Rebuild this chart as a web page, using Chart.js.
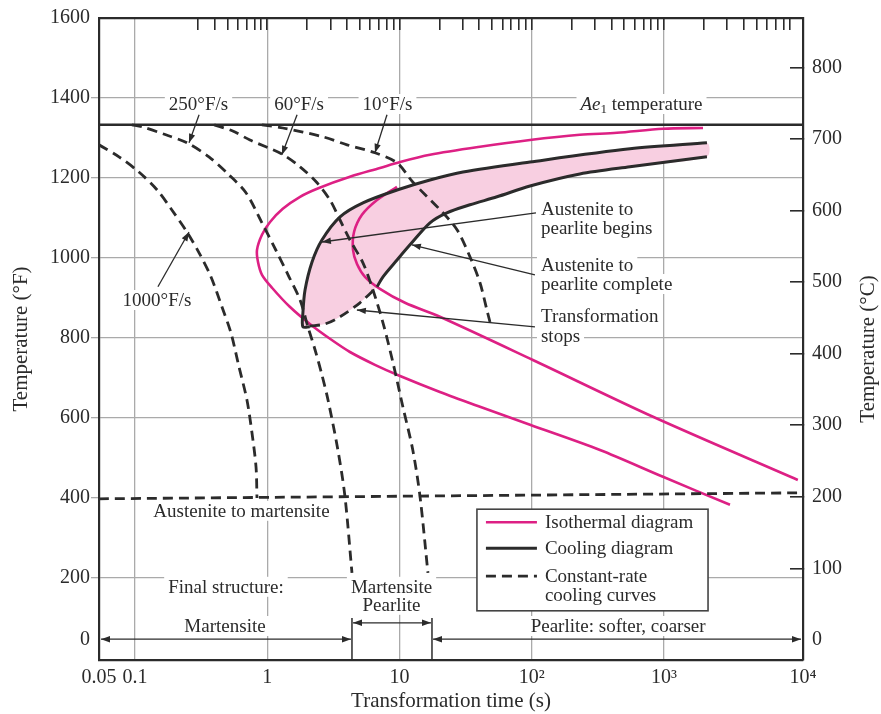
<!DOCTYPE html>
<html>
<head>
<meta charset="utf-8">
<script src="https://cdn.jsdelivr.net/npm/chart.js@4.4.1/dist/chart.umd.min.js"></script>
<style>
  html, body { margin: 0; padding: 0; background: #fff; }
  #wrap { width: 881px; height: 714px; }
</style>
</head>
<body>
<div id="wrap"><canvas id="cct" width="881" height="714"></canvas></div>
<script>
// axes
const xMin = 0.0534, xMax = 11250;
const xTickValues = [0.0534, 0.1, 1, 10, 100, 1000, 11250];
const xTickLabels = ["0.05", "0.1", "1", "10", "10²", "10³", "10⁴"];
const topTickValues = [0.3, 0.4, 0.5, 0.6, 0.7, 0.8, 0.9, 1, 2, 3, 4, 5, 6, 7, 8, 9, 10,
  20, 30, 40, 50, 60, 70, 80, 90, 100, 200, 300, 400, 500, 600, 700, 800, 900, 1000,
  2000, 3000, 4000, 5000, 6000, 7000, 8000, 9000];
const yTickValues = [0, 200, 400, 600, 800, 1000, 1200, 1400, 1600];
const yTickLabels = ["0", "200", "400", "600", "800", "1000", "1200", "1400", "1600"];
const cTickValues = [0, 100, 200, 300, 400, 500, 600, 700, 800];

// Ae1 and martensite start lines (time s, temp F)
const ae1Time = [0.0534, 11250];
const ae1Temp = [1333, 1333];
const msTime = [0.0534, 11250];
const msTemp = [398, 413];

// constant-rate cooling curves
const rate1000Time = [0.0534, 0.0756, 0.107, 0.147, 0.190, 0.247, 0.305, 0.375, 0.454, 0.531, 0.611, 0.702, 0.766, 0.822, 0.836];
const rate1000Temp = [1283, 1253, 1215, 1170, 1120, 1065, 1013, 953, 878, 813, 728, 645, 563, 478, 400];
const rate250Time = [0.0948, 0.113, 0.171, 0.247, 0.362, 0.513, 0.690, 0.912, 1.16, 1.46, 1.77, 2.03, 2.30, 2.59, 2.88, 3.42, 3.87, 4.37];
const rate250Temp = [1333, 1328, 1308, 1288, 1253, 1208, 1163, 1088, 1020, 953, 895, 828, 770, 708, 645, 520, 403, 213];
const rate60Time = [0.397, 0.543, 0.740, 1.29, 1.77, 2.38, 2.98, 3.55, 4.22, 5.29, 6.30, 7.50, 8.93, 10.6, 12.6, 14.3, 16.4];
const rate60Temp = [1333, 1318, 1295, 1260, 1228, 1188, 1145, 1095, 1045, 988, 920, 838, 738, 628, 520, 403, 213];
const rate10Time = [0.912, 1.31, 2.64, 4.01, 6.52, 9.57, 12.6, 21.3, 27.3, 34.1, 40.6, 45.8, 48.3];
const rate10Temp = [1333, 1325, 1303, 1283, 1263, 1238, 1190, 1113, 1070, 1003, 938, 870, 840];

// cooling diagram
const beginTime = [2.10, 1.86, 1.86, 1.93, 2.18, 2.59, 3.55, 5.29, 9.57, 17.0, 30.2, 97, 553, 2113];
const beginTemp = [828, 828, 863, 920, 990, 1045, 1103, 1138, 1170, 1195, 1215, 1240, 1273, 1288];
const endTime = [6.76, 7.50, 9.57, 12.0, 17.0, 22.8, 34.1, 54.6, 97, 231, 553, 2113];
const endTemp = [928, 953, 995, 1033, 1088, 1113, 1133, 1153, 1180, 1210, 1228, 1253];
const stopsTime = [2.10, 2.73, 3.55, 5.02, 6.76];
const stopsTemp = [830, 835, 853, 888, 928];

// isothermal diagram
const isoStartTime = [1972, 982, 441, 231, 97, 40.6, 17.0, 10.1, 7.11, 4.22, 2.46, 1.77, 1.31, 1.05, 0.912, 0.836,
  0.851, 0.912, 1.09, 1.48, 2.10, 2.98, 4.22, 6.52, 10.1, 20.2, 40.6, 97, 328, 982, 3155];
const isoStartTemp = [1325, 1323, 1313, 1308, 1295, 1278, 1258, 1240, 1225, 1203, 1175, 1153, 1123, 1090, 1058, 1020,
  990, 958, 925, 878, 835, 798, 765, 733, 705, 665, 628, 583, 520, 453, 383];
const isoFinishTime = [9.57, 6.76, 5.20, 4.53, 4.45, 4.77, 5.48, 7.11, 11.0, 20.2, 102, 826, 10280];
const isoFinishTemp = [1178, 1145, 1108, 1065, 1020, 985, 953, 923, 888, 853, 745, 603, 445];

const FONT = "'Liberation Serif', 'DejaVu Serif', serif";
const INK = "#2b2b2b";
const PINK = "#dd2084";
const SHADE = "#f8cfe1";
const GRID = "#aaaaaa";
const NONE = "rgba(0,0,0,0)";
const DASH = [10, 6];

function pts(ts, fs) {
  return ts.map((t, i) => ({ x: t, y: fs[i] }));
}

const shadeTime = beginTime.concat(endTime.slice().reverse(), stopsTime.slice().reverse());
const shadeTemp = beginTemp.concat(endTemp.slice().reverse(), stopsTemp.slice().reverse());

function curve(label, ts, fs, color, width, dash) {
  return {
    label: label,
    data: pts(ts, fs),
    showLine: true,
    borderColor: color,
    borderWidth: width,
    borderDash: dash || [],
    pointRadius: 0,
    tension: 0.3,
    fill: false
  };
}

const datasets = [
  curve("Ae1", ae1Time, ae1Temp, INK, 2.6),
  curve("Ms", msTime, msTemp, INK, 2.8, DASH),
  curve("1000F/s", rate1000Time, rate1000Temp, INK, 2.8, DASH),
  curve("250F/s", rate250Time, rate250Temp, INK, 2.8, DASH),
  curve("60F/s", rate60Time, rate60Temp, INK, 2.8, DASH),
  curve("10F/s", rate10Time, rate10Temp, INK, 2.8, DASH),
  curve("stops", stopsTime, stopsTemp, INK, 2.8, DASH),
  curve("begin", beginTime, beginTemp, INK, 3),
  curve("end", endTime, endTemp, INK, 3),
  curve("isoStart", isoStartTime, isoStartTemp, PINK, 2.6),
  curve("isoFinish", isoFinishTime, isoFinishTemp, PINK, 2.6),
  {
    label: "shade",
    data: pts(shadeTime, shadeTemp),
    showLine: true,
    borderWidth: 0,
    borderColor: NONE,
    backgroundColor: SHADE,
    pointRadius: 0,
    tension: 0.3,
    fill: "shape"
  }
];

// text notes placed in data space
const notes = [
  { text: "250°F/s", t: 0.302, f: 1385, align: "center" },
  { text: "60°F/s", t: 1.74, f: 1385, align: "center" },
  { text: "10°F/s", t: 8.11, f: 1385, align: "center" },
  { text: "1000°F/s", t: 0.1466, f: 895, align: "center" },
  { text: "Austenite to", t: 117.4, f: 1123, align: "left" },
  { text: "pearlite begins", t: 117.4, f: 1075, align: "left" },
  { text: "Austenite to", t: 117.4, f: 983, align: "left" },
  { text: "pearlite complete", t: 117.4, f: 935, align: "left" },
  { text: "Transformation", t: 117.4, f: 855, align: "left" },
  { text: "stops", t: 117.4, f: 805, align: "left" },
  { text: "Austenite to martensite", t: 0.638, f: 368, align: "center" },
  { text: "Final structure:", t: 0.487, f: 178, align: "center" },
  { text: "Martensite", t: 8.7, f: 178, align: "center" },
  { text: "Pearlite", t: 8.7, f: 133, align: "center" },
  { text: "Martensite", t: 0.479, f: 80, align: "center" },
  { text: "Pearlite: softer, coarser", t: 450, f: 80, align: "center" }
];

const pointers = [
  { from: [0.305, 1358], to: [0.256, 1288] },
  { from: [1.68, 1358], to: [1.29, 1258] },
  { from: [8.04, 1358], to: [6.52, 1263] },
  { from: [0.149, 928], to: [0.256, 1065] },
  { from: [107.6, 1113], to: [2.59, 1040] },
  { from: [105.7, 958], to: [12.4, 1033] },
  { from: [105.7, 828], to: [4.76, 870] }
];

// final structure bands
const bandEdges = [4.37, 17.6];

const px = (c, t) => c.scales.x.getPixelForValue(t);
const py = (c, f) => c.scales.y.getPixelForValue(f);

function head(ctx, x1, y1, x2, y2) {
  const a = Math.atan2(y2 - y1, x2 - x1), L = 9, W = 3.2;
  ctx.beginPath();
  ctx.moveTo(x2, y2);
  ctx.lineTo(x2 - L * Math.cos(a) + W * Math.sin(a), y2 - L * Math.sin(a) - W * Math.cos(a));
  ctx.lineTo(x2 - L * Math.cos(a) - W * Math.sin(a), y2 - L * Math.sin(a) + W * Math.cos(a));
  ctx.closePath();
  ctx.fill();
}

function arrow(ctx, x1, y1, x2, y2, both) {
  ctx.beginPath();
  ctx.moveTo(x1, y1);
  ctx.lineTo(x2, y2);
  ctx.stroke();
  head(ctx, x1, y1, x2, y2);
  if (both) head(ctx, x2, y2, x1, y1);
}

// keep the plot box fixed: no extra label padding
function noPad(s) {
  s.paddingTop = 0;
  s.paddingBottom = 0;
  s.paddingLeft = 0;
  s.paddingRight = 0;
}

const annotate = {
  id: "annotate",
  beforeDatasetsDraw(chart) {
    const ctx = chart.ctx;
    ctx.save();
    ctx.font = "19px " + FONT;
    ctx.textBaseline = "middle";
    ctx.textAlign = "left";
    notes.forEach(n => {
      const x = px(chart, n.t), y = py(chart, n.f);
      const w = ctx.measureText(n.text).width;
      const x0 = n.align === "left" ? x : x - w / 2;
      ctx.fillStyle = "#fff";
      ctx.fillRect(x0 - 4, y - 10, w + 8, 20);
      ctx.fillStyle = INK;
      ctx.fillText(n.text, x0, y + 1);
    });
    // Ae1 temperature
    const ax = px(chart, 676), ay = py(chart, 1385);
    const parts = [["Ae", "italic 19px " + FONT, 0], ["1", "13px " + FONT, 5], [" temperature", "19px " + FONT, 0]];
    let tw = 0;
    parts.forEach(p => { ctx.font = p[1]; tw += ctx.measureText(p[0]).width; });
    let cx = ax - tw / 2;
    ctx.fillStyle = "#fff";
    ctx.fillRect(cx - 4, ay - 10, tw + 8, 20);
    ctx.fillStyle = INK;
    parts.forEach(p => {
      ctx.font = p[1];
      ctx.fillText(p[0], cx, ay + 1 + p[2]);
      cx += ctx.measureText(p[0]).width;
    });
    ctx.restore();
  },
  afterDatasetsDraw(chart) {
    const ctx = chart.ctx, area = chart.chartArea;
    ctx.save();
    ctx.strokeStyle = INK;
    ctx.fillStyle = INK;
    ctx.lineWidth = 1.3;
    pointers.forEach(p => {
      arrow(ctx, px(chart, p.from[0]), py(chart, p.from[1]), px(chart, p.to[0]), py(chart, p.to[1]));
    });
    // final structure bars and arrows
    const b1 = px(chart, bandEdges[0]), b2 = px(chart, bandEdges[1]);
    const yTop = py(chart, 100), yLow = py(chart, 47), yMid = py(chart, 88);
    ctx.lineWidth = 1.5;
    [b1, b2].forEach(b => {
      ctx.beginPath();
      ctx.moveTo(b, yTop);
      ctx.lineTo(b, area.bottom);
      ctx.stroke();
    });
    ctx.lineWidth = 1.3;
    arrow(ctx, area.left + 2, yLow, b1 - 1, yLow, true);
    arrow(ctx, b1 + 1, yMid, b2 - 1, yMid, true);
    arrow(ctx, b2 + 1, yLow, area.right - 2, yLow, true);

    // legend box
    const lx0 = px(chart, 38.5), lx1 = px(chart, 2153);
    const ly0 = py(chart, 372), ly1 = py(chart, 118);
    ctx.fillStyle = "#fff";
    ctx.fillRect(lx0, ly0, lx1 - lx0, ly1 - ly0);
    ctx.strokeStyle = "#444";
    ctx.lineWidth = 1.6;
    ctx.strokeRect(lx0, ly0, lx1 - lx0, ly1 - ly0);
    const ds = chart.data.datasets;
    const rows = [
      { set: ds[9], y: 13, text: ["Isothermal diagram"] },
      { set: ds[7], y: 39, text: ["Cooling diagram"] },
      { set: ds[2], y: 67, text: ["Constant-rate", "cooling curves"] }
    ];
    ctx.font = "19px " + FONT;
    ctx.textBaseline = "middle";
    ctx.textAlign = "left";
    rows.forEach(r => {
      ctx.strokeStyle = r.set.borderColor;
      ctx.lineWidth = r.set.borderWidth;
      ctx.setLineDash(r.set.borderDash);
      ctx.beginPath();
      ctx.moveTo(lx0 + 9, ly0 + r.y);
      ctx.lineTo(lx0 + 60, ly0 + r.y);
      ctx.stroke();
      ctx.setLineDash([]);
      ctx.fillStyle = INK;
      r.text.forEach((s, i) => ctx.fillText(s, lx0 + 68, ly0 + r.y + 1 + i * 19));
    });
    ctx.restore();
  },
  afterDraw(chart) {
    const ctx = chart.ctx;
    ctx.save();
    ctx.translate(868, (chart.chartArea.top + chart.chartArea.bottom) / 2 + 10);
    ctx.rotate(-Math.PI / 2);
    ctx.font = "21px " + FONT;
    ctx.fillStyle = INK;
    ctx.textAlign = "center";
    ctx.textBaseline = "middle";
    ctx.fillText("Temperature (°C)", 0, 0);
    ctx.restore();
  }
};

Chart.defaults.font.family = FONT;
Chart.defaults.color = INK;

new Chart(document.getElementById("cct"), {
  type: "scatter",
  data: { datasets: datasets },
  plugins: [annotate],
  options: {
    responsive: false,
    animation: false,
    events: [],
    layout: { padding: 0 },
    plugins: { legend: { display: false }, tooltip: { enabled: false } },
    scales: {
      x: {
        type: "logarithmic",
        position: "bottom",
        min: xMin,
        max: xMax,
        afterBuildTicks: s => { s.ticks = xTickValues.map(v => ({ value: v })); },
        afterFit: s => { s.height = 54; noPad(s); },
        ticks: {
          autoSkip: false,
          maxRotation: 0,
          padding: 6,
          font: { size: 20 },
          callback: (v, i) => xTickLabels[i]
        },
        grid: {
          drawTicks: false,
          color: c => (c.tick && (c.tick.value === xMin || c.tick.value === xMax)) ? NONE : GRID,
          lineWidth: 1.3
        },
        border: { display: true, color: INK, width: 2.2 },
        title: { display: true, text: "Transformation time (s)", font: { size: 21 }, padding: { top: 0, bottom: 0 } }
      },
      xTop: {
        type: "logarithmic",
        position: "top",
        min: xMin,
        max: xMax,
        afterBuildTicks: s => { s.ticks = topTickValues.map(v => ({ value: v })); },
        afterFit: s => { s.height = 18; noPad(s); },
        ticks: { display: false },
        grid: { drawOnChartArea: false, tickLength: -12, color: INK, lineWidth: 1.6 },
        border: { display: true, color: INK, width: 2.2 }
      },
      y: {
        type: "linear",
        position: "left",
        min: -5,
        max: 1600,
        afterBuildTicks: s => { s.ticks = yTickValues.map(v => ({ value: v })); },
        afterFit: s => { s.width = 99; noPad(s); },
        ticks: {
          padding: 1,
          font: c => (c.tick && c.tick.value === 0) ? { size: 20, lineHeight: 1.8 } : { size: 20 },
          callback: (v, i) => v === 0 ? [yTickLabels[i], ""] : yTickLabels[i]
        },
        grid: {
          tickLength: 8,
          lineWidth: 1.3,
          color: c => [0, 400, 1600].includes(c.tick.value) ? NONE : GRID,
          tickColor: c => [0, 1600].includes(c.tick.value) ? NONE : GRID
        },
        border: { display: true, color: INK, width: 2.2 },
        title: { display: true, text: "Temperature (°F)", font: { size: 21 }, padding: { top: 9, bottom: 0 } }
      },
      yC: {
        type: "linear",
        position: "right",
        min: -28,
        max: 869,
        afterBuildTicks: s => { s.ticks = cTickValues.map(v => ({ value: v })); },
        afterFit: s => { s.width = 78; noPad(s); },
        ticks: { padding: 22, font: { size: 20 } },
        grid: {
          drawOnChartArea: false,
          tickLength: -13,
          lineWidth: 1.6,
          color: c => c.tick && c.tick.value === 0 ? NONE : INK
        },
        border: { display: true, color: INK, width: 2.2 }
      }
    }
  }
});
</script>
</body>
</html>
